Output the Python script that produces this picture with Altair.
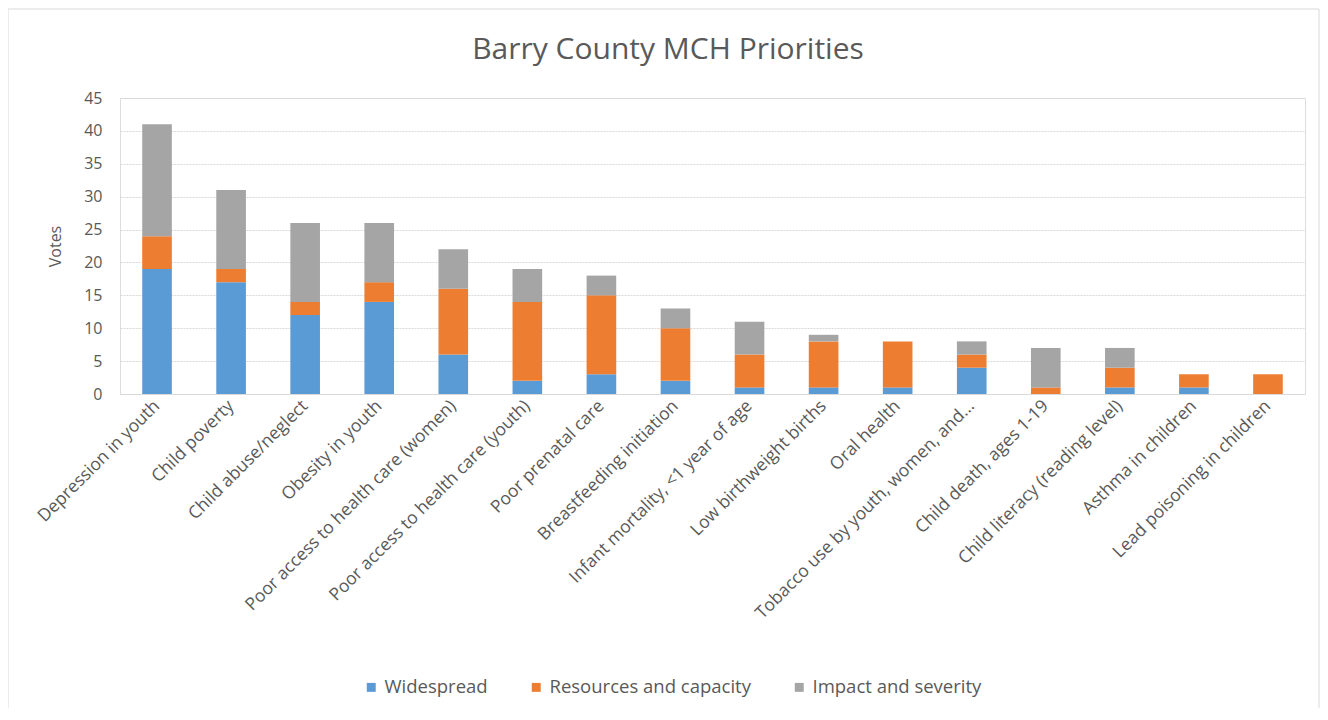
import altair as alt
import pandas as pd

categories = [
    "Depression in youth", "Child poverty", "Child abuse/neglect", "Obesity in youth",
    "Poor access to health care (women)", "Poor access to health care (youth)",
    "Poor prenatal care", "Breastfeeding initiation", "Infant mortality, <1 year of age",
    "Low birthweight births", "Oral health", "Tobacco use by youth, women, and...",
    "Child death, ages 1-19", "Child literacy (reading level)", "Asthma in children",
    "Lead poisoning in children",
]
widespread = [19, 17, 12, 14, 6, 2, 3, 2, 1, 1, 1, 4, 0, 1, 1, 0]
resources = [5, 2, 2, 3, 10, 12, 12, 8, 5, 7, 7, 2, 1, 3, 2, 3]
impact = [17, 12, 12, 9, 6, 5, 3, 3, 5, 1, 0, 2, 6, 3, 0, 0]
series = ["Widespread", "Resources and capacity", "Impact and severity"]
colors = ["#5B9BD5", "#ED7D31", "#A5A5A5"]
title_text = "Barry County MCH Priorities"

rows = []
for i, c in enumerate(categories):
    for k, (s, vals) in enumerate(zip(series, [widespread, resources, impact])):
        rows.append({"category": c, "series": s, "votes": vals[i], "order": k})
df = pd.DataFrame(rows)

W, H = 1185, 296
PL, PT, PR, PB = 112, 90, 15, 314
FONT = "Open Sans"
GRAY = "#595959"

bars = alt.Chart(df).mark_bar().encode(
    x=alt.X("category:N", sort=categories,
            scale=alt.Scale(paddingInner=0.6, paddingOuter=0.3),
            axis=alt.Axis(title=None, labelAngle=-45, labelAlign="right", labelBaseline="middle",
                          labelFontSize=17.5, labelColor=GRAY, labelFont=FONT, labelLimit=500,
                          ticks=False, domainColor="#d9d9d9", labelPadding=9)),
    y=alt.Y("votes:Q", stack="zero",
            scale=alt.Scale(domain=[0, 45], nice=False),
            axis=alt.Axis(title="Votes", values=list(range(0, 50, 5)), tickCount=10,
                          titleFontSize=16, titleFont=FONT, titleColor=GRAY, titleFontWeight="normal",
                          labelFontSize=16, labelFont=FONT, labelColor=GRAY, ticks=False,
                          domain=False, gridColor="#d9d9d9", gridDash=[2, 1], labelPadding=18,
                          titlePadding=20)),
    color=alt.Color("series:N", sort=series,
                    scale=alt.Scale(domain=series, range=colors),
                    legend=alt.Legend(title=None, orient="none", direction="horizontal",
                                      legendX=242, legendY=580, symbolType="square",
                                      symbolSize=80, symbolStrokeWidth=0,
                                      labelFontSize=18.5, labelFont=FONT, labelColor=GRAY,
                                      columnPadding=39, labelLimit=400)),
    order=alt.Order("order:Q"),
)

frame = alt.Chart(pd.DataFrame({"a": [0]})).mark_rect(
    fill=None, stroke="#d9d9d9", strokeWidth=1, clip=False
).encode(
    x=alt.value(-112), x2=alt.value(W + 14), y=alt.value(-89), y2=alt.value(H + 340)
)

title = alt.Chart(pd.DataFrame({"t": [title_text]})).mark_text(
    font=FONT, fontSize=30, color=GRAY, align="center", baseline="middle"
).encode(text="t:N", x=alt.value(548), y=alt.value(-48))

chart = alt.layer(bars, frame, title).properties(
    width=W, height=H,
    autosize=alt.AutoSizeParams(type="none"),
    padding={"left": PL, "top": PT, "right": PR, "bottom": PB},
).configure_view(stroke=None).configure(background="white")

chart.save("out.html", embed_options={"renderer": "svg", "actions": False})
